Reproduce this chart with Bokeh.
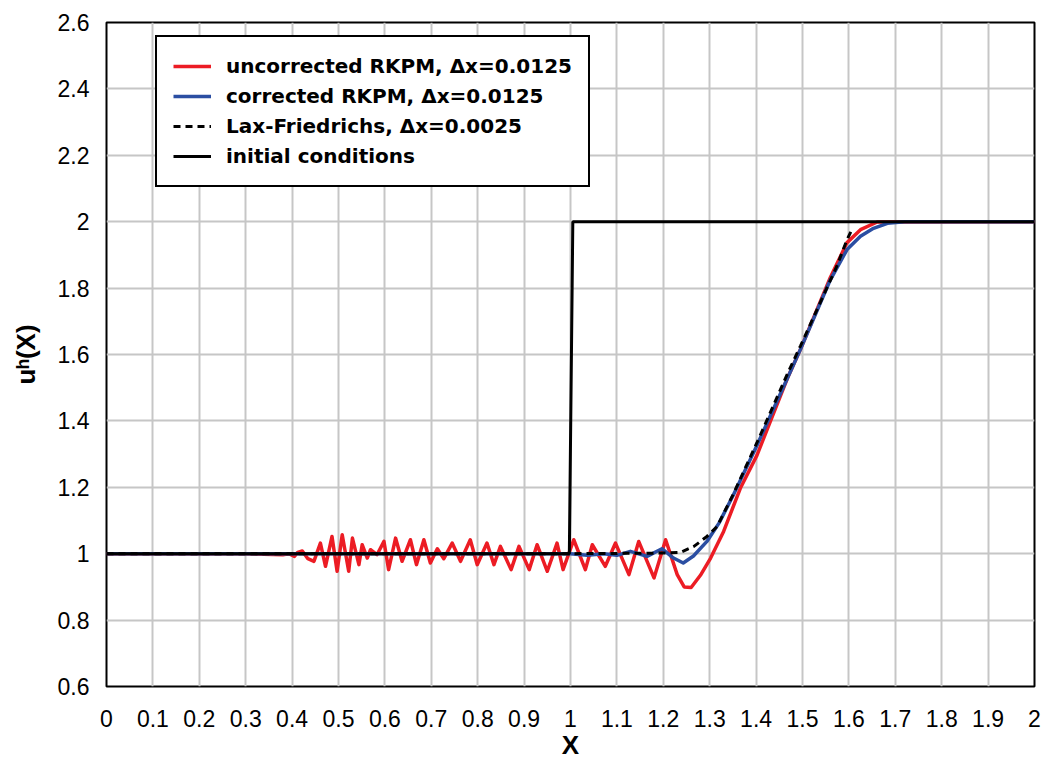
from bokeh.plotting import figure
from bokeh.models import FixedTicker, Range1d
from bokeh.embed import file_html
from bokeh.resources import INLINE

# Uncorrected RKPM solution, dx = 0.0125
rkpm_raw_x = [0.0, 0.30, 0.38, 0.393, 0.405, 0.412, 0.422, 0.434, 0.447, 0.461, 0.472,
              0.486, 0.497, 0.508, 0.522, 0.530, 0.544, 0.551, 0.562, 0.569, 0.583,
              0.598, 0.608, 0.623, 0.637, 0.655, 0.668, 0.684, 0.698, 0.713, 0.727,
              0.745, 0.763, 0.784, 0.799, 0.820, 0.835, 0.849, 0.872, 0.889, 0.911,
              0.928, 0.950, 0.971, 0.984, 1.007, 1.032, 1.047, 1.075, 1.097, 1.126,
              1.147, 1.180, 1.205, 1.230, 1.245, 1.260, 1.280, 1.302, 1.330, 1.366,
              1.402, 1.467, 1.496, 1.560, 1.596, 1.625, 1.661, 2.0]
rkpm_raw_y = [1.0, 1.0, 0.997, 1.0, 0.992, 1.004, 1.008, 0.985, 0.977, 1.032, 0.962,
              1.052, 0.947, 1.057, 0.947, 1.047, 0.967, 1.027, 0.987, 1.012, 0.997,
              1.037, 0.952, 1.047, 0.977, 1.042, 0.967, 1.042, 0.972, 1.015, 0.985,
              1.032, 0.977, 1.042, 0.967, 1.032, 0.967, 1.022, 0.952, 1.022, 0.952,
              1.027, 0.947, 1.032, 0.952, 1.042, 0.952, 1.027, 0.962, 1.032, 0.937,
              1.037, 0.927, 1.042, 0.937, 0.900, 0.898, 0.935, 0.987, 1.067, 1.197,
              1.297, 1.527, 1.617, 1.832, 1.937, 1.976, 1.999, 2.0]

# Corrected RKPM solution, dx = 0.0125
rkpm_cor_x = [0.0, 1.0, 1.036, 1.072, 1.100, 1.129, 1.165, 1.197, 1.222, 1.243, 1.265,
              1.294, 1.320, 1.351, 1.402, 1.467, 1.496, 1.560, 1.596, 1.625, 1.653,
              1.683, 1.720, 2.0]
rkpm_cor_y = [1.0, 1.0, 0.995, 1.0, 0.995, 1.007, 0.992, 1.015, 0.987, 0.972, 0.993,
              1.037, 1.092, 1.177, 1.327, 1.527, 1.617, 1.825, 1.916, 1.956, 1.980,
              1.995, 2.0, 2.0]

# Lax-Friedrichs reference, dx = 0.0025
lf_x = [0.0, 1.0, 1.208, 1.237, 1.266, 1.294, 1.316, 1.351, 1.402, 1.467, 1.496,
        1.574, 1.596, 1.607]
lf_y = [1.0, 1.0, 1.002, 1.004, 1.022, 1.052, 1.082, 1.180, 1.335, 1.540, 1.627,
        1.866, 1.946, 1.978]

# Initial step
ic_x = [0.0, 0.9975, 1.005, 2.0]
ic_y = [1.0, 1.0, 2.0, 2.0]

x_ticks = [0.0, 0.1, 0.2, 0.3, 0.4, 0.5, 0.6, 0.7, 0.8, 0.9, 1.0,
           1.1, 1.2, 1.3, 1.4, 1.5, 1.6, 1.7, 1.8, 1.9, 2.0]
x_tick_labels = ["0", "0.1", "0.2", "0.3", "0.4", "0.5", "0.6", "0.7", "0.8", "0.9", "1",
                 "1.1", "1.2", "1.3", "1.4", "1.5", "1.6", "1.7", "1.8", "1.9", "2"]
y_ticks = [0.6, 0.8, 1.0, 1.2, 1.4, 1.6, 1.8, 2.0, 2.2, 2.4, 2.6]
y_tick_labels = ["0.6", "0.8", "1", "1.2", "1.4", "1.6", "1.8", "2", "2.2", "2.4", "2.6"]

p = figure(width=1045, height=762, output_backend="svg", toolbar_location=None,
           x_range=Range1d(0, 2), y_range=Range1d(0.6, 2.6),
           min_border_left=106, min_border_right=11, min_border_top=22,
           min_border_bottom=73)

p.line(rkpm_raw_x, rkpm_raw_y, line_color="#ec1c24", line_width=3.5, line_join="round",
       legend_label="uncorrected RKPM, \u0394x=0.0125")
p.line(rkpm_cor_x, rkpm_cor_y, line_color="#2b4ea2", line_width=3.5, line_join="round",
       legend_label="corrected RKPM, \u0394x=0.0125")
p.line(lf_x, lf_y, line_color="black", line_width=3, line_dash="7 5",
       legend_label="Lax-Friedrichs, \u0394x=0.0025")
p.line(ic_x, ic_y, line_color="black", line_width=3,
       legend_label="initial conditions")

p.background_fill_color = "white"
p.border_fill_color = "white"
p.outline_line_color = "black"
p.outline_line_width = 2
p.outline_line_alpha = 1.0

p.xaxis.ticker = FixedTicker(ticks=x_ticks)
p.yaxis.ticker = FixedTicker(ticks=y_ticks)
p.xaxis.major_label_overrides = dict(zip(x_ticks, x_tick_labels))
p.yaxis.major_label_overrides = dict(zip(y_ticks, y_tick_labels))

for ax in (p.xaxis, p.yaxis):
    ax.axis_line_color = None
    ax.major_tick_line_color = None
    ax.minor_tick_line_color = None
    ax.major_label_text_font = "Liberation Sans"
    ax.major_label_text_font_size = "23px"
    ax.major_label_text_color = "black"
    ax.axis_label_text_font = "Liberation Sans"
    ax.axis_label_text_font_style = "bold"
    ax.axis_label_text_color = "black"

p.xaxis.axis_label = "X"
p.xaxis.axis_label_text_font_size = "26px"
p.xaxis.major_label_standoff = 17
p.xaxis.axis_label_standoff = 0

p.yaxis.axis_label = "u\u02b0(X)"
p.yaxis.axis_label_text_font_size = "26px"
p.yaxis.major_label_standoff = 11
p.yaxis.axis_label_standoff = 14

p.grid.grid_line_color = "#c6c6c6"
p.grid.grid_line_width = 2

lg = p.legend[0]
lg.location = (49, 499)
lg.label_text_font = "DejaVu Sans"
lg.label_text_font_style = "bold"
lg.label_text_font_size = "20px"
lg.label_text_color = "black"
lg.border_line_color = "black"
lg.border_line_width = 2
lg.border_line_alpha = 1.0
lg.background_fill_color = "white"
lg.background_fill_alpha = 1.0
lg.glyph_width = 38
lg.glyph_height = 26
lg.label_height = 26
lg.label_standoff = 15
lg.spacing = 4
lg.padding = 16
lg.margin = 0

open("out.html", "w").write(file_html(p, INLINE))
